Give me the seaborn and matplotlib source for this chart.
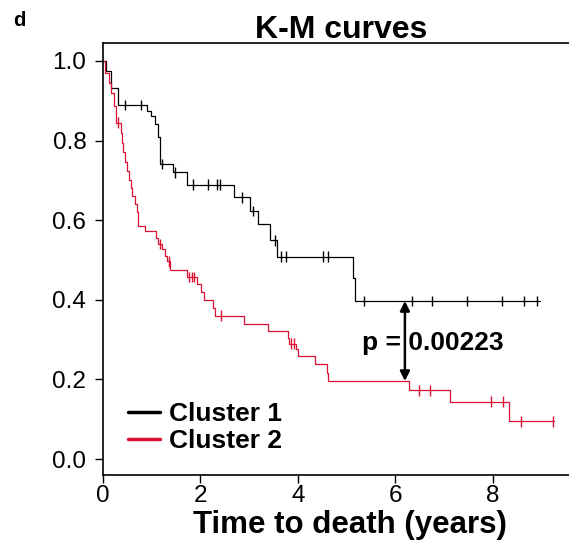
import numpy as np
import pandas as pd
import matplotlib
matplotlib.use("Agg")
import matplotlib.pyplot as plt
import seaborn as sns

# ── data ────────────────────────────────────────────────
# step times (years) and survival after each step; last entry = end of follow-up
c1_time = [0.0, 0.07, 0.165, 0.30, 0.91, 0.98, 1.06, 1.13, 1.17, 1.44, 1.73,
           2.69, 3.01, 3.18, 3.42, 3.57, 5.13, 5.18, 8.98]
c1_surv = [1.0, 0.975, 0.933, 0.889, 0.874, 0.862, 0.841, 0.81, 0.741, 0.72, 0.689,
           0.657, 0.623, 0.59, 0.549, 0.508, 0.456, 0.397, 0.397]
c1_censor = [0.46, 0.79, 1.22, 1.47, 1.84, 2.15, 2.34, 2.41, 2.86, 3.08, 3.53,
             3.66, 3.75, 4.52, 4.63, 5.37, 6.34, 6.76, 7.48, 8.20, 8.65, 8.92]

c2_time = [0.0, 0.05, 0.12, 0.17, 0.22, 0.27, 0.36, 0.39, 0.42, 0.45, 0.49, 0.53,
           0.57, 0.60, 0.65, 0.69, 0.71, 0.87, 1.08, 1.13, 1.22, 1.27, 1.32, 1.37,
           1.73, 1.94, 2.02, 2.08, 2.26, 2.31, 2.89, 3.38, 3.79, 3.83, 3.97, 4.01,
           4.35, 4.59, 4.63, 6.28, 7.13, 8.34, 9.26]
c2_surv = [1.0, 0.97, 0.945, 0.92, 0.887, 0.845, 0.82, 0.795, 0.77, 0.745, 0.724, 0.70,
           0.68, 0.66, 0.64, 0.62, 0.585, 0.573, 0.556, 0.54, 0.527, 0.51, 0.497, 0.474,
           0.457, 0.439, 0.42, 0.40, 0.38, 0.36, 0.34, 0.322, 0.305, 0.29, 0.276, 0.259,
           0.238, 0.217, 0.196, 0.173, 0.144, 0.095, 0.095]
c2_censor = [0.31, 1.17, 1.35, 1.77, 1.82, 1.87, 2.43, 3.87, 3.92, 6.48, 6.72,
             7.96, 8.22, 8.58, 9.25]

groups = ["Cluster 1", "Cluster 2"]
colors = ["black", "#dd1133"]
p_text = "p = 0.00223"
p_time = 6.2
x_ticks = [0, 2, 4, 6, 8]
y_ticks = [0.0, 0.2, 0.4, 0.6, 0.8, 1.0]


def surv_at(times, surv, t):
    """step-function value (right-continuous)"""
    idx = np.searchsorted(times, t, side="right") - 1
    return np.asarray(surv)[idx]


curves = pd.concat([
    pd.DataFrame({"time": c1_time, "surv": c1_surv, "group": groups[0]}),
    pd.DataFrame({"time": c2_time, "surv": c2_surv, "group": groups[1]}),
])
censors = pd.concat([
    pd.DataFrame({"time": c1_censor, "surv": surv_at(c1_time, c1_surv, c1_censor), "group": groups[0]}),
    pd.DataFrame({"time": c2_censor, "surv": surv_at(c2_time, c2_surv, c2_censor), "group": groups[1]}),
])

sns.set_style("ticks")
plt.rcParams["font.family"] = ["Liberation Sans", "DejaVu Sans"]
plt.rcParams["text.color"] = "black"
plt.rcParams["xtick.color"] = "black"
plt.rcParams["ytick.color"] = "black"

fig = plt.figure(figsize=(5.69, 5.44), dpi=100)
ax = fig.add_axes([103 / 569, 69 / 544, 466 / 569, 432 / 544])

palette = dict(zip(groups, colors))
sns.lineplot(data=curves, x="time", y="surv", hue="group", palette=palette,
             drawstyle="steps-post", estimator=None, sort=False,
             linewidth=0.9, ax=ax)
sns.scatterplot(data=censors, x="time", y="surv", hue="group", palette=palette,
                marker="|", s=60, linewidth=1.0, legend=False, ax=ax)

# p-value arrow between the two curves
y_top = surv_at(c1_time, c1_surv, p_time)
y_bot = surv_at(c2_time, c2_surv, p_time)
ax.annotate("", xy=(p_time, y_bot), xytext=(p_time, y_top),
            arrowprops=dict(arrowstyle="<|-|>", color="black", lw=1.8,
                            mutation_scale=14, shrinkA=0, shrinkB=0))
ax.text(5.31, 0.274, p_text, fontsize=19, fontweight="bold", ha="left", va="baseline")

ax.set_xlim(0, 9.57)
ax.set_ylim(-0.04, 1.045)
ax.set_xticks(x_ticks)
ax.set_xticklabels([str(t) for t in x_ticks])
ax.set_yticks(y_ticks)
ax.set_yticklabels([f"{t:.1f}" for t in y_ticks])
ax.tick_params(labelsize=17.5, length=6, width=1.0, color="black", labelcolor="black")
ax.tick_params(axis="x", pad=1.5)
ax.tick_params(axis="y", pad=6)
ax.set_xlabel("")
ax.set_ylabel("")
for side in ["left", "top", "bottom"]:
    ax.spines[side].set_linewidth(1.2)
    ax.spines[side].set_color("black")
ax.spines["right"].set_visible(False)

leg = ax.legend(loc="center left", bbox_to_anchor=(0.054, 0.11), frameon=False,
                borderpad=0, borderaxespad=0, handlelength=1.2, handletextpad=0.35,
                labelspacing=0.1, prop={"size": 19, "weight": "bold"})
for line in leg.get_lines():
    line.set_linewidth(2.5)

fig.text(341 / 569, 1 - 38 / 544, "K-M curves", fontsize=23, fontweight="bold",
         ha="center", va="baseline")
fig.text(349.5 / 569, 1 - 533 / 544, "Time to death (years)", fontsize=22.5,
         fontweight="bold", ha="center", va="baseline")
fig.text(13 / 569, 1 - 26 / 544, "d", fontsize=14.5, fontweight="bold",
         ha="left", va="baseline")

plt.savefig("out.png", dpi=100)
plt.close()
